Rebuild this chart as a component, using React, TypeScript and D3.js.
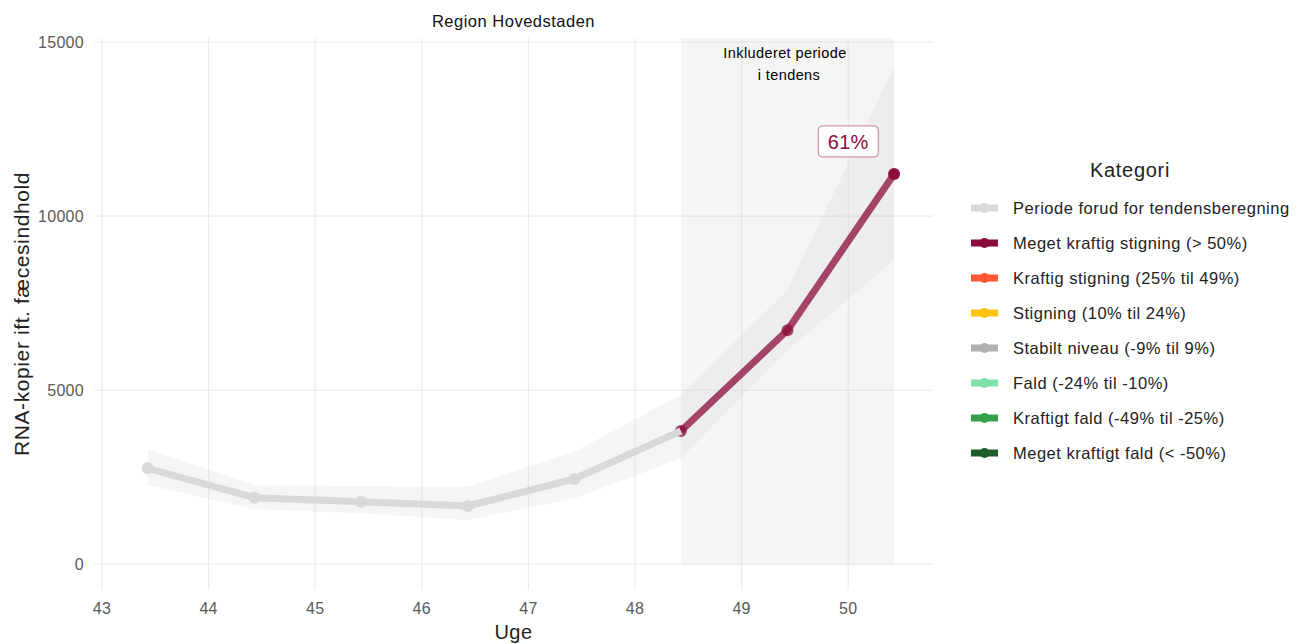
import * as d3 from 'd3';

const weeks = [43.43, 44.43, 45.43, 46.43, 47.43, 48.43, 49.43, 50.43];
const values = [2757, 1913, 1798, 1674, 2450, 3828, 6720, 11209];
const upper = [3300, 2280, 2245, 2230, 3230, 4870, 7880, 14300];
const lower = [2280, 1580, 1465, 1272, 1890, 3040, 6150, 8740];
const trendStart = 5; // index where the trend period begins

const xTicks = [43, 44, 45, 46, 47, 48, 49, 50];
const yTicks = [0, 5000, 10000, 15000];

const legendLabels = [
  'Periode forud for tendensberegning',
  'Meget kraftig stigning (> 50%)',
  'Kraftig stigning (25% til 49%)',
  'Stigning (10% til 24%)',
  'Stabilt niveau (-9% til 9%)',
  'Fald (-24% til -10%)',
  'Kraftigt fald (-49% til -25%)',
  'Meget kraftigt fald (< -50%)',
];
const legendColors = ['#d9d9d9', '#8b0b3e', '#ff5733', '#ffc30f', '#b0b0b0', '#80e0a7', '#35a04a', '#1e5c2b'];

const trendLabel = '61%';
const trendLabelPos = { week: 50, value: 12130 };

const W = 1296;
const H = 644;
const font = '"Liberation Sans", Arial, sans-serif';

export default function App() {
  const x = d3.scaleLinear().domain([42.925, 50.795]).range([94, 933]);
  const y = d3.scaleLinear().domain([-738, 15115]).range([590, 38]);

  const pts = weeks.map((w, i) => ({ w, v: values[i], hi: upper[i], lo: lower[i] }));
  const before = pts.slice(0, trendStart + 1);
  const trend = pts.slice(trendStart);

  const line = d3.line<typeof pts[0]>().x(d => x(d.w)).y(d => y(d.v));
  const band = d3.area<typeof pts[0]>().x(d => x(d.w)).y0(d => y(d.lo)).y1(d => y(d.hi));

  const [px0, px1] = x.range();
  const [py0, py1] = y.range();
  const trendColor = legendColors[1];

  const lx = x(trendLabelPos.week);
  const ly = y(trendLabelPos.value);

  return (
    <svg width={W} height={H} style={{ position: 'absolute', left: 0, top: 0, background: '#fff' }} fontFamily={font}>
      {/* grid */}
      {yTicks.map(t => (
        <line key={'gy' + t} x1={px0} x2={px1} y1={y(t)} y2={y(t)} stroke="#ebebeb" strokeWidth={1.1} />
      ))}
      {xTicks.map(t => (
        <line key={'gx' + t} x1={x(t)} x2={x(t)} y1={py1} y2={py0} stroke="#ebebeb" strokeWidth={1.1} />
      ))}

      {/* trend period shading */}
      <rect x={x(weeks[trendStart])} width={x(weeks[weeks.length - 1]) - x(weeks[trendStart])}
        y={py1} height={y(0) - py1} fill="#cccccc" fillOpacity={0.2} />

      <path d={band(pts) || ''} fill="#cccccc" fillOpacity={0.2} />

      {/* lines */}
      <path d={line(trend) || ''} fill="none" stroke={trendColor} strokeOpacity={0.75} strokeWidth={7} strokeLinejoin="round" />
      {trend.slice(0, -1).map(d => (
        <circle key={'tp' + d.w} cx={x(d.w)} cy={y(d.v)} r={6} fill={trendColor} fillOpacity={0.75} />
      ))}
      <circle cx={x(trend[trend.length - 1].w)} cy={y(trend[trend.length - 1].v)} r={6} fill={trendColor} />
      <path d={line(before) || ''} fill="none" stroke="#d9d9d9" strokeWidth={7} strokeLinejoin="round" />
      {before.slice(0, -1).map(d => (
        <circle key={'bp' + d.w} cx={x(d.w)} cy={y(d.v)} r={6} fill="#d9d9d9" />
      ))}

      {/* trend label */}
      <rect x={lx - 30} y={ly - 16} width={60} height={31} rx={4} fill="#fff" stroke="#c67d98" strokeWidth={1} />
      <text x={lx} y={ly + 7} textAnchor="middle" fontSize={20} letterSpacing={0.3} fill={trendColor}>{trendLabel}</text>

      {/* annotation */}
      <text y={58} textAnchor="middle" fontSize={14.5} letterSpacing={0.4} fill="#000">
        <tspan x={785} dy={0}>Inkluderet periode</tspan>
        <tspan x={789} dy={22}>i tendens</tspan>
      </text>

      {/* axes */}
      {yTicks.map(t => (
        <text key={'ty' + t} x={84} y={y(t) + 6} textAnchor="end" fontSize={16} letterSpacing={0.3} fill="#595959">{t}</text>
      ))}
      {xTicks.map(t => (
        <text key={'tx' + t} x={x(t)} y={614} textAnchor="middle" fontSize={16} letterSpacing={0.3} fill="#595959">{t}</text>
      ))}
      <text x={(px0 + px1) / 2} y={639} textAnchor="middle" fontSize={20} letterSpacing={0.5} fill="#222">Uge</text>
      <text transform={`translate(29,${(py0 + py1) / 2}) rotate(-90)`} textAnchor="middle" fontSize={21} letterSpacing={0.6} fill="#222">
        RNA-kopier ift. fæcesindhold
      </text>

      <text x={(px0 + px1) / 2} y={27} textAnchor="middle" fontSize={16.5} letterSpacing={0.5} fill="#111">Region Hovedstaden</text>

      {/* legend */}
      <text x={1130} y={177} textAnchor="middle" fontSize={20} letterSpacing={0.7} fill="#222">Kategori</text>
      {legendLabels.map((lab, i) => {
        const cy = 208 + i * 35;
        return (
          <g key={lab}>
            <line x1={971} x2={998} y1={cy} y2={cy} stroke={legendColors[i]} strokeWidth={7} />
            <circle cx={984.5} cy={cy} r={5} fill={legendColors[i]} />
            <text x={1013} y={cy + 6} fontSize={16.5} letterSpacing={0.5} fill="#222">{lab}</text>
          </g>
        );
      })}
    </svg>
  );
}
